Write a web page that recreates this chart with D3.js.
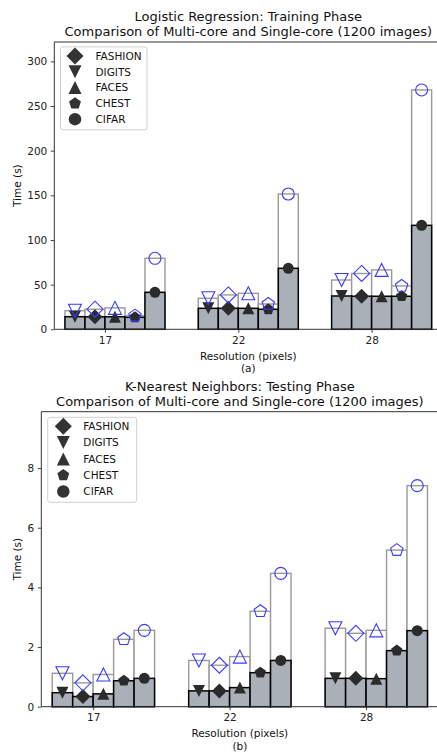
<!DOCTYPE html>
<html><head><meta charset="utf-8">
<script src="https://cdn.jsdelivr.net/npm/d3@7"></script>
<style>body{margin:0;background:#fff}svg{display:block;font-family:"DejaVu Sans",sans-serif}</style>
</head><body><svg id="c" width="437" height="753"></svg>
<script>
// ---- data ----
const categories = ["17", "22", "28"];
const barDatasets = ["DIGITS", "FASHION", "FACES", "CHEST", "CIFAR"];      // bar order within a group
const legendOrder = ["FASHION", "DIGITS", "FACES", "CHEST", "CIFAR"];
// Logistic Regression training (s); rows follow barDatasets, columns follow categories
const lrMulti  = [[14.1, 23.5, 37.3], [14.0, 23.5, 37.0], [14.0, 23.5, 37.0], [13.4, 22.4, 37.0], [41.4, 68.3, 116.4]];
const lrSingle = [[20.8, 34.7, 55.2], [22.5, 38.5, 62.5], [24.0, 40.3, 66.5], [15.3, 28.3, 48.5], [79.5, 151.5, 268.0]];
const lrTicks  = [0, 50, 100, 150, 200, 250, 300];
// KNN testing (s)
const knnMulti  = [[0.47, 0.53, 0.95], [0.34, 0.53, 0.95], [0.43, 0.64, 0.94], [0.87, 1.14, 1.88], [0.95, 1.55, 2.55]];
const knnSingle = [[1.12, 1.55, 2.63], [0.80, 1.39, 2.46], [1.08, 1.68, 2.56], [2.26, 3.20, 5.25], [2.56, 4.47, 7.41]];
const knnTicks  = [0, 2, 4, 6, 8];

// ---- marker shapes ----
function mk(fn){ return { draw(ctx, size){ fn(ctx, Math.sqrt(size) / 2); } }; }
const shapes = {
  FASHION: mk((c, r) => { c.moveTo(0, -r); c.lineTo(r, 0); c.lineTo(0, r); c.lineTo(-r, 0); c.closePath(); }),
  DIGITS:  mk((c, r) => { c.moveTo(-r, -r); c.lineTo(r, -r); c.lineTo(0, r); c.closePath(); }),
  FACES:   mk((c, r) => { c.moveTo(0, -r); c.lineTo(r, r); c.lineTo(-r, r); c.closePath(); }),
  CHEST:   mk((c, r) => { for (let k = 0; k < 5; k++) { const a = -Math.PI / 2 + k * 2 * Math.PI / 5; const x = r * Math.cos(a), y = r * Math.sin(a); k ? c.lineTo(x, y) : c.moveTo(x, y); } c.closePath(); }),
  CIFAR:   mk((c, r) => { c.moveTo(r, 0); c.arc(0, 0, r, 0, 2 * Math.PI); })
};
const markerW = { FASHION: 15, DIGITS: 12, FACES: 12, CHEST: 12, CIFAR: 11 };
const legendW = { FASHION: 17, DIGITS: 13, FACES: 13, CHEST: 12.5, CIFAR: 12.5 };

const svg = d3.select("#c");
const FILL = "#aab0b8", BLUE = "#3a3aff", DARK = "#2b2b2b";

function chart(cfg) {
  const g = svg.append("g");
  const x = d3.scaleLinear().domain([-0.38, 2.53]).range([cfg.left, cfg.right]);
  const y = d3.scaleLinear().domain([0, cfg.ymax]).range([cfg.bottom, cfg.top]);
  const bw = 0.15;
  const rows = [];
  barDatasets.forEach((name, k) => categories.forEach((cat, i) => {
    rows.push({ name, k, i, multi: cfg.multi[k][i], single: cfg.single[k][i] });
  }));
  const x0 = d => x(d.i + (d.k - 2) * bw), x1 = d => x(d.i + (d.k - 1) * bw);

  // single-core bars
  g.selectAll(".s").data(rows).join("rect")
    .attr("x", x0).attr("width", d => x1(d) - x0(d))
    .attr("y", d => y(d.single)).attr("height", d => y(0) - y(d.single))
    .attr("fill", "#fff").attr("stroke", "#9a9a9a").attr("stroke-width", 1.4);
  // multi-core bars
  g.selectAll(".m").data(rows).join("rect")
    .attr("x", x0).attr("width", d => x1(d) - x0(d))
    .attr("y", d => y(d.multi)).attr("height", d => y(0) - y(d.multi))
    .attr("fill", FILL).attr("stroke", "#000").attr("stroke-width", 1.5);
  const cx = d => (x0(d) + x1(d)) / 2;
  // multi markers
  g.selectAll(".mm").data(rows).join("path")
    .attr("transform", d => `translate(${cx(d)},${y(d.multi)})`)
    .attr("d", d => d3.symbol().type(shapes[d.name]).size(markerW[d.name] ** 2)())
    .attr("fill", DARK);
  // single markers
  g.selectAll(".sm").data(rows).join("path")
    .attr("transform", d => `translate(${cx(d)},${y(d.single)})`)
    .attr("d", d => d3.symbol().type(shapes[d.name]).size((markerW[d.name] + 1) ** 2)())
    .attr("fill", "none").attr("stroke", BLUE).attr("stroke-width", 1.1);

  // axes
  const ya = g.append("g").attr("transform", `translate(${cfg.left},0)`)
    .call(d3.axisLeft(y).tickValues(cfg.ticks).tickSize(3.5).tickPadding(3.5).tickFormat(d3.format("d")));
  const xa = g.append("g").attr("transform", `translate(0,${cfg.bottom})`)
    .call(d3.axisBottom(x).tickValues([0, 1, 2]).tickSize(3.5).tickPadding(3.5).tickFormat(i => categories[i]));
  [ya, xa].forEach(a => {
    a.select(".domain").remove();
    a.selectAll("text").attr("font-size", 10.5).attr("fill", "#222").attr("font-family", "DejaVu Sans");
    a.selectAll("line").attr("stroke", "#333").attr("stroke-width", 0.9);
  });
  // spines
  const sp = [[cfg.left, cfg.top, cfg.left, cfg.bottom], [cfg.left, cfg.bottom, cfg.right, cfg.bottom],
              [cfg.left, cfg.top, cfg.right, cfg.top], [cfg.right, cfg.top, cfg.right, cfg.bottom]];
  g.selectAll(".sp").data(sp).join("line")
    .attr("x1", d => d[0]).attr("y1", d => d[1]).attr("x2", d => d[2]).attr("y2", d => d[3])
    .attr("stroke", "#333").attr("stroke-width", 1);

  const midX = (cfg.left + cfg.right) / 2;
  // titles
  g.append("text").attr("x", midX).attr("y", cfg.titleY).attr("text-anchor", "middle")
    .attr("font-size", 13).attr("fill", "#111").text(cfg.title1);
  g.append("text").attr("x", midX).attr("y", cfg.titleY + 15).attr("text-anchor", "middle")
    .attr("font-size", 13).attr("fill", "#111").text(cfg.title2);
  // x label
  g.append("text").attr("x", midX).attr("y", cfg.bottom + 30.5).attr("text-anchor", "middle")
    .attr("font-size", 10.5).attr("fill", "#111").text("Resolution (pixels)");
  g.append("text").attr("x", midX).attr("y", cfg.bottom + 42.8).attr("text-anchor", "middle")
    .attr("font-size", 10.5).attr("fill", "#111").text(cfg.sub);
  // y label
  g.append("text").attr("transform", `translate(21,${(cfg.top + cfg.bottom) / 2}) rotate(-90)`)
    .attr("text-anchor", "middle").attr("font-size", 10.5).attr("fill", "#111").text("Time (s)");

  // legend
  const L = cfg.legend;
  g.append("rect").attr("x", L.x).attr("y", L.y).attr("width", L.w).attr("height", L.h)
    .attr("rx", 2.5).attr("fill", "#fff").attr("fill-opacity", 0.85).attr("stroke", "#d0d0d0").attr("stroke-width", 1);
  const li = g.selectAll(".li").data(legendOrder).join("g")
    .attr("transform", (d, j) => `translate(${L.x},${L.y + L.first + j * L.step})`);
  li.append("path").attr("transform", `translate(${L.mx},0)`)
    .attr("d", d => d3.symbol().type(shapes[d]).size(legendW[d] ** 2)()).attr("fill", "#333");
  li.append("text").attr("x", L.tx).attr("y", 3.8).attr("font-size", 10.5).attr("fill", "#111").text(d => d);
}

chart({ left: 54.3, right: 442.3, top: 42, bottom: 329.3, ymax: 321.7, multi: lrMulti, single: lrSingle, ticks: lrTicks,
  title1: "Logistic Regression: Training Phase", title2: "Comparison of Multi-core and Single-core (1200 images)",
  titleY: 21, sub: "(a)", legend: { x: 60.5, y: 46.8, w: 86.5, h: 83, first: 9.2, step: 15.8, mx: 14.5, tx: 35 } });

chart({ left: 41.3, right: 438.4, top: 411.7, bottom: 706.7, ymax: 9.89, multi: knnMulti, single: knnSingle, ticks: knnTicks,
  title1: "K-Nearest Neighbors: Testing Phase", title2: "Comparison of Multi-core and Single-core (1200 images)",
  titleY: 390.5, sub: "(b)", legend: { x: 47.7, y: 417.3, w: 89, h: 85, first: 9, step: 16.3, mx: 15.6, tx: 35.6 } });
</script></body></html>
